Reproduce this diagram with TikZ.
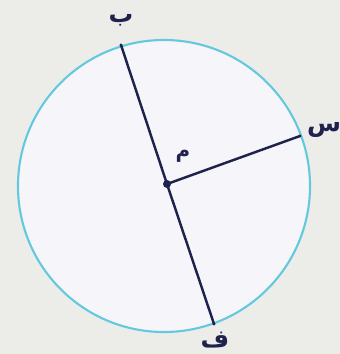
\documentclass[tikz,border=0pt]{standalone}
\usepackage{fontspec}
\newfontfamily\arabicfont[Script=Arabic]{DejaVu Sans}
\TeXXeTstate=1
\definecolor{paper}{RGB}{236,237,232}
\definecolor{disc}{RGB}{246,246,250}
\definecolor{rim}{RGB}{100,200,222}
\definecolor{ink}{RGB}{32,34,78}
\tikzset{
  letter/.style={font=\arabicfont\bfseries\fontsize{21}{21}\selectfont, text=ink, inner sep=0pt},
  radius line/.style={ink, line width=2.1pt},
}
\begin{document}
\begin{tikzpicture}[x=0.03cm,y=-0.03cm]
        \fill[paper] (0,0) rectangle (340,354);
        \useasboundingbox (0,0) rectangle (340,354);
        \draw[rim, fill=disc, line width=1.8pt] (164,186) circle (4.38cm);

        \coordinate (m) at (167,184);
        \coordinate (b) at (121,45);
        \coordinate (s) at (300,136);
        \coordinate (f) at (214,324);

        \draw[radius line] (b) -- (m);
        \draw[radius line] (m) -- (f);
        \draw[radius line] (m) -- (s);
        \fill[ink] (m) circle (0.12cm);
        \fill[ink] (b) circle (0.05cm);
        \fill[ink] (s) circle (0.05cm);
        \fill[ink] (f) circle (0.05cm);

        \node (lb) [letter] at (121,20) {\beginR ب\endR};
        \node (ls) [letter] at (324,130) {\beginR س\endR};
        \node (lf) [letter] at (215,340) {\beginR ف\endR};
        \node (lm) [letter, font=\arabicfont\bfseries\fontsize{17}{17}\selectfont] at (183,156) {\beginR م\endR};
\end{tikzpicture}
\end{document}
